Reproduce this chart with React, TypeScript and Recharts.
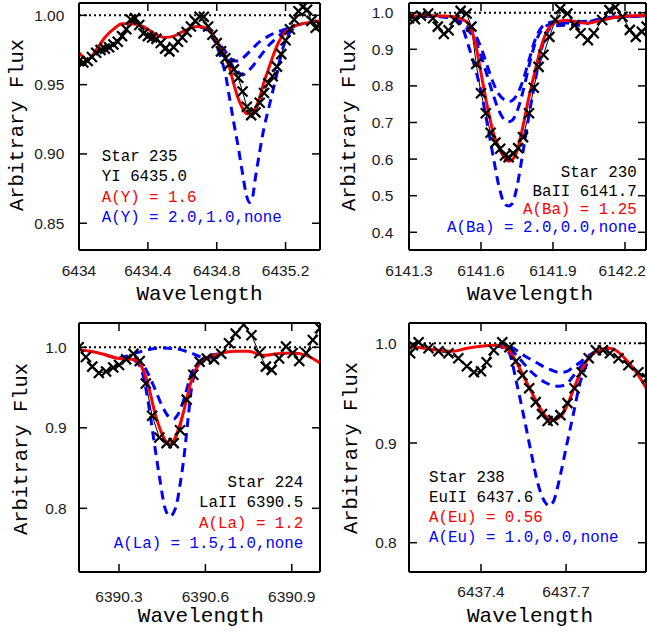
import React from 'react';
import { LineChart, Line, XAxis, YAxis, ReferenceLine } from 'recharts';

type P = [number, number];

// ---------- Panel 1: Star 235, YI 6435.0 ----------
const p1XTicks = [6434, 6434.4, 6434.8, 6435.2];
const p1YTicks = [0.85, 0.9, 0.95, 1.0];
const p1Obs: P[] = [
  [6434.000, 0.967], [6434.025, 0.966], [6434.050, 0.967], [6434.075, 0.970], [6434.100, 0.973],
  [6434.125, 0.975], [6434.150, 0.976], [6434.175, 0.977], [6434.200, 0.979], [6434.225, 0.981],
  [6434.250, 0.985], [6434.275, 0.990], [6434.300, 0.997], [6434.325, 0.998], [6434.350, 0.993],
  [6434.375, 0.987], [6434.400, 0.985], [6434.425, 0.984], [6434.450, 0.983], [6434.475, 0.980],
  [6434.500, 0.976], [6434.525, 0.974], [6434.550, 0.977], [6434.575, 0.981], [6434.600, 0.984],
  [6434.625, 0.988], [6434.650, 0.992], [6434.675, 0.996], [6434.700, 0.999], [6434.725, 0.999],
  [6434.750, 0.992], [6434.775, 0.986], [6434.800, 0.980], [6434.825, 0.974], [6434.850, 0.969],
  [6434.875, 0.965], [6434.900, 0.961], [6434.925, 0.955], [6434.950, 0.945], [6434.975, 0.934],
  [6435.000, 0.928], [6435.025, 0.930], [6435.050, 0.937], [6435.075, 0.944], [6435.100, 0.951],
  [6435.125, 0.956], [6435.150, 0.963], [6435.175, 0.972], [6435.200, 0.982], [6435.225, 0.990],
  [6435.250, 0.997], [6435.275, 1.003], [6435.300, 1.006], [6435.325, 1.004], [6435.350, 0.996],
  [6435.375, 0.991], [6435.400, 0.993],
];
const p1Red: P[] = [
  [6434.00, 0.973], [6434.05, 0.968], [6434.10, 0.975], [6434.15, 0.984], [6434.20, 0.990],
  [6434.25, 0.994], [6434.30, 0.994], [6434.35, 0.993], [6434.40, 0.990], [6434.45, 0.986],
  [6434.50, 0.984], [6434.55, 0.985], [6434.60, 0.988], [6434.65, 0.991], [6434.70, 0.992],
  [6434.75, 0.990], [6434.80, 0.982], [6434.85, 0.970], [6434.875, 0.962], [6434.90, 0.950],
  [6434.925, 0.940], [6434.95, 0.933], [6434.975, 0.929], [6435.00, 0.929], [6435.025, 0.933],
  [6435.05, 0.941], [6435.075, 0.952], [6435.10, 0.961], [6435.125, 0.970], [6435.15, 0.978],
  [6435.175, 0.984], [6435.20, 0.988], [6435.25, 0.992], [6435.30, 0.994], [6435.35, 0.995],
  [6435.40, 0.996],
];
const p1BlueHigh: P[] = [
  [6434.70, 0.992], [6434.75, 0.989], [6434.80, 0.978], [6434.825, 0.969], [6434.85, 0.958],
  [6434.875, 0.940], [6434.90, 0.922], [6434.925, 0.905], [6434.95, 0.886], [6434.975, 0.869],
  [6434.99, 0.865], [6435.005, 0.867], [6435.025, 0.883], [6435.05, 0.902], [6435.075, 0.919],
  [6435.10, 0.932], [6435.125, 0.945], [6435.15, 0.958], [6435.175, 0.972], [6435.20, 0.982],
  [6435.25, 0.991], [6435.30, 0.994],
];
const p1BlueLow: P[] = [
  [6434.70, 0.992], [6434.75, 0.989], [6434.80, 0.981], [6434.85, 0.972], [6434.875, 0.967],
  [6434.90, 0.962], [6434.925, 0.959], [6434.95, 0.957], [6434.975, 0.959], [6435.00, 0.962],
  [6435.05, 0.970], [6435.10, 0.978], [6435.15, 0.984], [6435.20, 0.989], [6435.25, 0.992],
];
const p1BlueNone: P[] = [
  [6434.70, 0.992], [6434.75, 0.989], [6434.80, 0.982], [6434.85, 0.974], [6434.875, 0.970],
  [6434.90, 0.967], [6434.925, 0.967], [6434.95, 0.969], [6435.00, 0.975], [6435.05, 0.981],
  [6435.10, 0.985], [6435.15, 0.988], [6435.20, 0.990], [6435.25, 0.992],
];

// ---------- Panel 2: Star 230, BaII 6141.7 ----------
const p2XTicks = [6141.3, 6141.6, 6141.9, 6142.2];
const p2YTicks = [0.4, 0.5, 0.6, 0.7, 0.8, 0.9, 1.0];
const p2Obs: P[] = [
  [6141.300, 0.985], [6141.325, 0.982], [6141.350, 0.992], [6141.380, 0.998], [6141.400, 0.985],
  [6141.420, 0.962], [6141.445, 0.942], [6141.465, 0.952], [6141.490, 0.980], [6141.515, 1.005],
  [6141.540, 0.998], [6141.560, 0.962], [6141.580, 0.860], [6141.600, 0.780], [6141.620, 0.725],
  [6141.640, 0.672], [6141.660, 0.645], [6141.680, 0.628], [6141.700, 0.610], [6141.715, 0.605],
  [6141.735, 0.615], [6141.755, 0.630], [6141.775, 0.660], [6141.800, 0.725], [6141.820, 0.795],
  [6141.840, 0.852], [6141.860, 0.885], [6141.885, 0.934], [6141.910, 0.980], [6141.930, 1.010],
  [6141.960, 0.998], [6141.990, 0.966], [6142.015, 0.944], [6142.045, 0.925], [6142.070, 0.944],
  [6142.105, 0.980], [6142.135, 1.007], [6142.160, 1.015], [6142.190, 0.989], [6142.220, 0.953],
  [6142.245, 0.934], [6142.270, 0.948], [6142.290, 0.962],
];
const p2Red: P[] = [
  [6141.30, 0.990], [6141.35, 0.991], [6141.40, 0.992], [6141.45, 0.991], [6141.50, 0.987],
  [6141.525, 0.981], [6141.55, 0.968], [6141.575, 0.920], [6141.60, 0.835], [6141.625, 0.748],
  [6141.65, 0.675], [6141.675, 0.630], [6141.70, 0.602], [6141.715, 0.594], [6141.73, 0.598],
  [6141.75, 0.622], [6141.775, 0.690], [6141.80, 0.770], [6141.825, 0.840], [6141.85, 0.905],
  [6141.875, 0.950], [6141.90, 0.970], [6141.925, 0.977], [6141.95, 0.979], [6141.975, 0.978],
  [6142.00, 0.975], [6142.04, 0.971], [6142.075, 0.975], [6142.12, 0.982], [6142.17, 0.988],
  [6142.22, 0.991], [6142.29, 0.993],
];
const p2BlueHigh: P[] = [
  [6141.30, 0.988], [6141.40, 0.990], [6141.45, 0.988], [6141.50, 0.978], [6141.525, 0.955],
  [6141.55, 0.905], [6141.575, 0.850], [6141.60, 0.785], [6141.625, 0.700], [6141.65, 0.610],
  [6141.675, 0.525], [6141.70, 0.476], [6141.715, 0.472], [6141.73, 0.478], [6141.75, 0.525],
  [6141.775, 0.620], [6141.80, 0.720], [6141.825, 0.810], [6141.85, 0.895], [6141.875, 0.945],
  [6141.90, 0.963], [6141.95, 0.966], [6142.00, 0.966], [6142.05, 0.972], [6142.10, 0.980],
  [6142.15, 0.986], [6142.20, 0.989], [6142.29, 0.991],
];
const p2BlueLow: P[] = [
  [6141.30, 0.988], [6141.40, 0.990], [6141.45, 0.988], [6141.50, 0.977], [6141.525, 0.966],
  [6141.55, 0.950], [6141.575, 0.925], [6141.60, 0.882], [6141.625, 0.830], [6141.65, 0.777],
  [6141.675, 0.732], [6141.70, 0.706], [6141.715, 0.702], [6141.73, 0.706], [6141.75, 0.730],
  [6141.775, 0.785], [6141.80, 0.855], [6141.825, 0.915], [6141.85, 0.950], [6141.875, 0.965],
  [6141.90, 0.970], [6141.95, 0.972], [6142.00, 0.972], [6142.05, 0.976], [6142.10, 0.982],
  [6142.15, 0.987], [6142.20, 0.990], [6142.29, 0.992],
];
const p2BlueNone: P[] = [
  [6141.30, 0.989], [6141.40, 0.991], [6141.45, 0.989], [6141.50, 0.980], [6141.525, 0.972],
  [6141.55, 0.960], [6141.575, 0.940], [6141.60, 0.905], [6141.625, 0.857], [6141.65, 0.810],
  [6141.675, 0.777], [6141.70, 0.761], [6141.715, 0.757], [6141.73, 0.760], [6141.75, 0.776],
  [6141.775, 0.815], [6141.80, 0.870], [6141.825, 0.925], [6141.85, 0.958], [6141.875, 0.970],
  [6141.90, 0.975], [6141.95, 0.977], [6142.00, 0.976], [6142.05, 0.977], [6142.10, 0.983],
  [6142.15, 0.988], [6142.20, 0.990], [6142.29, 0.992],
];

// ---------- Panel 3: Star 224, LaII 6390.5 ----------
const p3XTicks = [6390.3, 6390.6, 6390.9];
const p3YTicks = [0.8, 0.9, 1.0];
const p3Obs: P[] = [
  [6390.160, 1.000], [6390.185, 0.988], [6390.207, 0.976], [6390.230, 0.968], [6390.255, 0.970],
  [6390.280, 0.975], [6390.300, 0.978], [6390.325, 0.985], [6390.350, 0.992], [6390.372, 0.983],
  [6390.393, 0.955], [6390.415, 0.915], [6390.440, 0.888], [6390.465, 0.881], [6390.490, 0.881],
  [6390.512, 0.897], [6390.535, 0.935], [6390.558, 0.966], [6390.580, 0.982], [6390.605, 0.986],
  [6390.630, 0.985], [6390.655, 0.992], [6390.682, 1.005], [6390.705, 1.017], [6390.733, 1.028],
  [6390.760, 1.015], [6390.787, 0.993], [6390.810, 0.976], [6390.830, 0.972], [6390.856, 0.986],
  [6390.880, 1.001], [6390.903, 0.993], [6390.926, 0.983], [6390.950, 0.993], [6390.973, 1.009],
  [6390.998, 1.024],
];
const p3Red: P[] = [
  [6390.16, 0.997], [6390.20, 0.995], [6390.25, 0.991], [6390.30, 0.986], [6390.35, 0.985],
  [6390.375, 0.978], [6390.40, 0.955], [6390.425, 0.918], [6390.45, 0.892], [6390.475, 0.879],
  [6390.50, 0.892], [6390.525, 0.921], [6390.55, 0.957], [6390.575, 0.978], [6390.60, 0.986],
  [6390.65, 0.992], [6390.70, 0.995], [6390.75, 0.995], [6390.80, 0.990], [6390.85, 0.992],
  [6390.90, 0.993], [6390.95, 0.990], [6391.00, 0.980],
];
const p3BlueHigh: P[] = [
  [6390.30, 0.986], [6390.35, 0.984], [6390.375, 0.975], [6390.39, 0.955], [6390.40, 0.935],
  [6390.425, 0.875], [6390.44, 0.840], [6390.46, 0.800], [6390.477, 0.790], [6390.49, 0.795],
  [6390.50, 0.805], [6390.51, 0.825], [6390.525, 0.862], [6390.54, 0.912], [6390.55, 0.945],
  [6390.565, 0.970], [6390.58, 0.980], [6390.60, 0.986], [6390.65, 0.992],
];
const p3BlueLow: P[] = [
  [6390.30, 0.986], [6390.35, 0.986], [6390.375, 0.982], [6390.40, 0.968], [6390.425, 0.948],
  [6390.45, 0.927], [6390.475, 0.913], [6390.49, 0.911], [6390.50, 0.914], [6390.525, 0.935],
  [6390.55, 0.966], [6390.575, 0.981], [6390.60, 0.987], [6390.65, 0.992],
];
const p3BlueNone: P[] = [
  [6390.25, 0.991], [6390.30, 0.987], [6390.35, 0.992], [6390.40, 0.997], [6390.45, 0.999],
  [6390.50, 0.998], [6390.55, 0.993], [6390.60, 0.987], [6390.65, 0.992],
];

// ---------- Panel 4: Star 238, EuII 6437.6 ----------
const p4XTicks = [6437.4, 6437.7];
const p4YTicks = [0.8, 0.9, 1.0];
const p4Obs: P[] = [
  [6437.150, 0.990], [6437.160, 0.998], [6437.180, 1.001], [6437.215, 0.995], [6437.250, 0.992],
  [6437.285, 0.990], [6437.320, 0.985], [6437.350, 0.977], [6437.375, 0.971], [6437.400, 0.972],
  [6437.420, 0.981], [6437.445, 0.993], [6437.475, 1.001], [6437.500, 0.996], [6437.523, 0.982],
  [6437.546, 0.968], [6437.570, 0.955], [6437.593, 0.941], [6437.615, 0.929], [6437.635, 0.922],
  [6437.655, 0.923], [6437.680, 0.928], [6437.705, 0.940], [6437.730, 0.955], [6437.755, 0.971],
  [6437.780, 0.985], [6437.805, 0.993], [6437.830, 0.993], [6437.855, 0.990], [6437.885, 0.985],
  [6437.920, 0.978], [6437.955, 0.971], [6437.985, 0.965],
];
const p4Red: P[] = [
  [6437.15, 0.997], [6437.20, 0.995], [6437.25, 0.993], [6437.30, 0.992], [6437.35, 0.995],
  [6437.40, 0.997], [6437.45, 0.998], [6437.475, 0.997], [6437.50, 0.992], [6437.525, 0.981],
  [6437.55, 0.967], [6437.575, 0.953], [6437.60, 0.939], [6437.625, 0.928], [6437.645, 0.923],
  [6437.665, 0.924], [6437.69, 0.930], [6437.71, 0.942], [6437.735, 0.960], [6437.76, 0.976],
  [6437.785, 0.987], [6437.81, 0.992], [6437.85, 0.995], [6437.875, 0.993], [6437.90, 0.987],
  [6437.95, 0.970], [6437.985, 0.954],
];
const p4BlueHigh: P[] = [
  [6437.45, 0.998], [6437.475, 0.996], [6437.50, 0.990], [6437.525, 0.961], [6437.55, 0.928],
  [6437.575, 0.893], [6437.60, 0.860], [6437.625, 0.841], [6437.64, 0.837], [6437.655, 0.841],
  [6437.68, 0.868], [6437.70, 0.895], [6437.725, 0.928], [6437.75, 0.961], [6437.775, 0.980],
  [6437.80, 0.991], [6437.85, 0.995],
];
const p4BlueLow: P[] = [
  [6437.45, 0.998], [6437.50, 0.995], [6437.525, 0.988], [6437.55, 0.980], [6437.575, 0.972],
  [6437.60, 0.966], [6437.625, 0.961], [6437.65, 0.958], [6437.675, 0.957], [6437.70, 0.959],
  [6437.725, 0.967], [6437.75, 0.976], [6437.775, 0.985], [6437.80, 0.991],
];
const p4BlueNone: P[] = [
  [6437.45, 0.998], [6437.50, 0.997], [6437.525, 0.993], [6437.55, 0.988], [6437.575, 0.984],
  [6437.60, 0.980], [6437.625, 0.976], [6437.65, 0.973], [6437.675, 0.971], [6437.70, 0.9715],
  [6437.725, 0.976], [6437.75, 0.981], [6437.775, 0.987], [6437.80, 0.991],
];

// ---------- Annotation text ----------
const p1Notes = ['Star 235', 'YI 6435.0', 'A(Y) = 1.6', 'A(Y) = 2.0,1.0,none'];
const p2Notes = ['Star 230', 'BaII 6141.7', 'A(Ba) = 1.25', 'A(Ba) = 2.0,0.0,none'];
const p3Notes = ['Star 224', 'LaII 6390.5', 'A(La) = 1.2', 'A(La) = 1.5,1.0,none'];
const p4Notes = ['Star 238', 'EuII 6437.6', 'A(Eu) = 0.56', 'A(Eu) = 1.0,0.0,none'];
const noteColors = ['#000000', '#000000', '#ff0000', '#0000ff'];

const MONO = '"Liberation Mono", "DejaVu Sans Mono", monospace';
const SANS = '"Liberation Sans", Arial, sans-serif';
const TICK_FS = 15.5;

const toPts = (a: P[]) => a.map(([w, f]) => ({ w, f }));
const fmtX = (v: number) => String(parseFloat(v.toFixed(1)));

const Cross = (props: any) => {
  const { cx, cy, index } = props;
  if (cx == null || cy == null || isNaN(cx) || isNaN(cy)) return <g key={`n${index}`} />;
  const s = 5;
  return (
    <path
      key={`c${index}`}
      d={`M${cx - s},${cy - s}L${cx + s},${cy + s}M${cx - s},${cy + s}L${cx + s},${cy - s}`}
      stroke="#000"
      strokeWidth={2.2}
      fill="none"
    />
  );
};
const NoTick = () => <g />;

// x tick label that stays inside the chart's right edge
const makeXTick = (maxX: number) => (props: any) => {
  const { x, y, payload, index } = props;
  const label = fmtX(payload.value);
  const w = (label.replace('.', '').length * 0.556 + (label.includes('.') ? 0.278 : 0)) * TICK_FS;
  const overflow = x + w / 2 > maxX;
  return (
    <text key={`xt${index}`} x={overflow ? maxX : x} y={y} dy="0.71em" textAnchor={overflow ? 'end' : 'middle'}
      fontFamily={SANS} fontSize={TICK_FS} fill="#1a1a1a">{label}</text>
  );
};

type PanelProps = {
  left: number; top: number; width: number; height: number;
  mTop: number; mRight: number; xAxisH: number;
  xDomain: [number, number]; yDomain: [number, number];
  xTicks: number[]; yTicks: number[]; yDigits: number;
  xTM: number; yTM: number;
  obs: P[]; red: P[]; blues: P[][];
};

function Panel(p: PanelProps) {
  const axisLine = { stroke: '#000', strokeWidth: 2 };
  const tickLine = { stroke: '#000', strokeWidth: 1.5 };
  const tickStyle = { fontFamily: SANS, fontSize: TICK_FS, fill: '#1a1a1a' };
  return (
    <div style={{ position: 'absolute', left: p.left, top: p.top, width: p.width, height: p.height }}>
      <LineChart width={p.width} height={p.height} margin={{ top: p.mTop, right: p.mRight, bottom: 0, left: 0 }}>
        <XAxis xAxisId="b" dataKey="w" type="number" domain={p.xDomain} ticks={p.xTicks} allowDataOverflow
          interval={0} height={p.xAxisH} tickSize={-8} tickMargin={p.xTM}
          axisLine={axisLine} tickLine={tickLine} tick={makeXTick(p.width - 1)} />
        <XAxis xAxisId="t" orientation="top" dataKey="w" type="number" domain={p.xDomain} ticks={p.xTicks}
          allowDataOverflow interval={0} height={1} tickSize={-8} axisLine={axisLine} tickLine={tickLine} tick={NoTick} />
        <YAxis yAxisId="l" type="number" domain={p.yDomain} ticks={p.yTicks} allowDataOverflow interval={0}
          width={79} tickSize={-8} tickMargin={p.yTM} tickFormatter={(v: number) => v.toFixed(p.yDigits)}
          axisLine={axisLine} tickLine={tickLine} tick={tickStyle} />
        <YAxis yAxisId="r" orientation="right" type="number" domain={p.yDomain} ticks={p.yTicks} allowDataOverflow
          interval={0} width={1} tickSize={-8} axisLine={axisLine} tickLine={tickLine} tick={NoTick} />
        <ReferenceLine xAxisId="b" yAxisId="l" y={1} stroke="#000" strokeWidth={2} strokeDasharray="2 3" />
        <Line xAxisId="b" yAxisId="l" data={toPts(p.obs)} dataKey="f" type="linear" stroke="#000" strokeWidth={1}
          dot={Cross} activeDot={false} isAnimationActive={false} />
        {p.blues.map((b, i) => (
          <Line key={i} xAxisId="b" yAxisId="l" data={toPts(b)} dataKey="f" type="monotone" stroke="#0000ff"
            strokeWidth={3} strokeDasharray="9 6" dot={false} activeDot={false} isAnimationActive={false} />
        ))}
        <Line xAxisId="b" yAxisId="l" data={toPts(p.red)} dataKey="f" type="monotone" stroke="#ff0000"
          strokeWidth={3} dot={false} activeDot={false} isAnimationActive={false} />
      </LineChart>
    </div>
  );
}

function Notes({ lines, x, ys, align }: { lines: string[]; x: number; ys: number[]; align: 'left' | 'right' }) {
  return (
    <>
      {lines.map((t, i) => (
        <div key={i} style={{
          position: 'absolute', top: ys[i], transform: 'translateY(-50%)',
          ...(align === 'left' ? { left: x } : { right: 647 - x }),
          fontFamily: MONO, fontSize: 15.8, lineHeight: '18px', whiteSpace: 'pre', color: noteColors[i],
        }}>{t}</div>
      ))}
    </>
  );
}

function XTitle({ cx, cy }: { cx: number; cy: number }) {
  return (
    <div style={{ position: 'absolute', left: cx, top: cy, transform: 'translate(-50%, -50%)',
      fontFamily: MONO, fontSize: 21, lineHeight: '24px', whiteSpace: 'pre', color: '#000' }}>Wavelength</div>
  );
}
function YTitle({ cx, cy }: { cx: number; cy: number }) {
  return (
    <div style={{ position: 'absolute', left: cx, top: cy, transform: 'translate(-50%, -50%) rotate(-90deg)',
      fontFamily: MONO, fontSize: 20.5, lineHeight: '24px', whiteSpace: 'pre', color: '#000' }}>Arbitrary Flux</div>
  );
}

export default function App() {
  return (
    <div style={{ position: 'absolute', left: 0, top: 0, width: 647, height: 635, background: '#fff', overflow: 'hidden' }}>
      <Panel left={0} top={0} width={330} height={310} mTop={2} mRight={9} xAxisH={60}
        xDomain={[6434, 6435.4]} yDomain={[0.8307, 1.0089]} xTicks={p1XTicks} yTicks={p1YTicks} yDigits={2}
        xTM={23} yTM={22.7} obs={p1Obs} red={p1Red} blues={[p1BlueHigh, p1BlueLow, p1BlueNone]} />
      <Panel left={330} top={0} width={317} height={310} mTop={2} mRight={0} xAxisH={60}
        xDomain={[6141.3, 6142.2875]} yDomain={[0.3516, 1.0265]} xTicks={p2XTicks} yTicks={p2YTicks} yDigits={1}
        xTM={22.5} yTM={23.7} obs={p2Obs} red={p2Red} blues={[p2BlueHigh, p2BlueLow, p2BlueNone]} />
      <Panel left={0} top={315} width={330} height={320} mTop={7} mRight={9} xAxisH={63}
        xDomain={[6390.161, 6390.998]} yDomain={[0.7209, 1.0302]} xTicks={p3XTicks} yTicks={p3YTicks} yDigits={1}
        xTM={27} yTM={20.3} obs={p3Obs} red={p3Red} blues={[p3BlueHigh, p3BlueLow, p3BlueNone]} />
      <Panel left={330} top={315} width={317} height={320} mTop={7} mRight={0} xAxisH={63}
        xDomain={[6437.146, 6437.982]} yDomain={[0.7706, 1.0204]} xTicks={p4XTicks} yTicks={p4YTicks} yDigits={1}
        xTM={22} yTM={20.3} obs={p4Obs} red={p4Red} blues={[p4BlueHigh, p4BlueLow, p4BlueNone]} />

      <Notes lines={p1Notes} x={101.7} ys={[156.7, 176.7, 198, 218]} align="left" />
      <Notes lines={p2Notes} x={636.7} ys={[173.3, 191.7, 210, 228.3]} align="right" />
      <Notes lines={p3Notes} x={303.3} ys={[483.3, 503.3, 524.3, 544.3]} align="right" />
      <Notes lines={p4Notes} x={429} ys={[478.3, 497.7, 517.7, 537.7]} align="left" />

      <XTitle cx={199.5} cy={295} />
      <XTitle cx={530} cy={295} />
      <XTitle cx={200.8} cy={616.7} />
      <XTitle cx={530} cy={616.7} />
      <YTitle cx={18} cy={125} />
      <YTitle cx={350} cy={125} />
      <YTitle cx={21.7} cy={449} />
      <YTitle cx={351.7} cy={448.3} />
    </div>
  );
}
